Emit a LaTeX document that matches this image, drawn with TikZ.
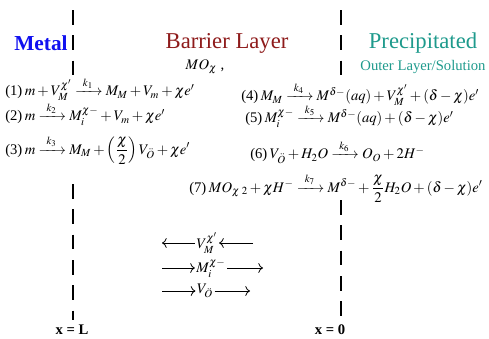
\documentclass[tikz,border=0pt]{standalone}
\usepackage{amsmath}
\usepackage{mathptmx}
\usepackage{fontspec}
\setmainfont{Liberation Serif}
\usetikzlibrary{arrows.meta,positioning}
\definecolor{MetalBlue}{HTML}{1010F0}
\definecolor{BarrierRed}{HTML}{8E1B1B}
\definecolor{PptTeal}{HTML}{1E9A8C}
\newcommand{\kto}[1]{\xrightarrow{\makebox[5mm]{$\scriptstyle k_{#1}$}}}
\tikzset{
  title/.style={font=\fontsize{17}{19}\selectfont, inner sep=1pt},
  subtitle/.style={font=\fontsize{11}{13}\selectfont, inner sep=1pt},
  reaction/.style={anchor=west, inner sep=0pt,
    font=\fontsize{11}{13}\selectfont},
  boundary/.style={line width=0.8pt, dash pattern=on 11pt off 8pt},
  flux/.style={-{To[length=3.5pt]}, line width=0.6pt},
  species/.style={inner sep=1pt, font=\fontsize{11}{13}\selectfont},
  position/.style={font=\bfseries\fontsize{11}{13}\selectfont, inner sep=1pt}
}
\begin{document}
\begin{tikzpicture}[x=0.75pt, y=-0.75pt]
  \useasboundingbox (0,0) rectangle (489,339);
  % interfaces (broken where the reactions are written)
  \coordinate (mbtop) at (73,10);
  \coordinate (mbmid) at (73,80);
  \coordinate (mbres) at (73,184);
  \coordinate (mbbot) at (73,320);
  \coordinate (bstop) at (341,10);
  \coordinate (bsmid) at (341,80);
  \coordinate (bsres) at (341,200);
  \coordinate (bsbot) at (341,320);
  \draw[boundary] (mbtop) -- (mbmid);
  \draw[boundary] (mbres) -- (mbbot);
  \draw[boundary] (bstop) -- (bsmid);
  \draw[boundary] (bsres) -- (bsbot);
  % region titles
  \node[title, text=MetalBlue, font=\bfseries\fontsize{16}{18}\selectfont] (metal) at (41,43) {Metal};
  \node[title, text=BarrierRed] (barrier) at (227,43) {Barrier Layer};
  \node[title, text=PptTeal] (ppt) at (423,43) {Precipitated};
  \node[subtitle, text=PptTeal] (outer) at (423,67) {Outer Layer/Solution};
  \node[subtitle] (oxide) at (205,67) {$MO_{\chi}$ ,};
  % reactions at the metal/film interface
  \node[reaction] (r1) at (5,89) {(1)\,$m+V_M^{\chi'}\kto{1}M_M+V_m+\chi e'$};
  \node[reaction] (r2) at (5,114) {(2)\,$m\kto{2}M_i^{\chi-}+V_m+\chi e'$};
  \node[reaction] (r3) at (5,150) {(3)\,$m\kto{3}M_M+\left(\dfrac{\chi}{2}\right)V_{\ddot{O}}+\chi e'$};
  % reactions at the film/solution interface
  \node[reaction] (r4) at (241,94) {(4)\,$M_M\kto{4}M^{\delta-}(aq)+V_M^{\chi'}+(\delta-\chi)e'$};
  \node[reaction] (r5) at (245,116) {(5)\,$M_i^{\chi-}\kto{5}M^{\delta-}(aq)+(\delta-\chi)e'$};
  \node[reaction] (r6) at (250,152) {(6)\,$V_{\ddot{O}}+H_2O\kto{6}O_O+2H^-$};
  \node[reaction] (r7) at (189,188) {(7)\,$MO_{\chi\;2}+\chi H^-\kto{7}M^{\delta-}+\dfrac{\chi}{2}H_2O+(\delta-\chi)e'$};
  % defect fluxes
  \node[species] (vm) at (207,243) {$V_M^{\chi'}$};
  \node[species] (mi) at (211,268) {$M_i^{\chi-}$};
  \node[species] (vo) at (205,291) {$V_{\ddot{O}}$};
  \coordinate (vmin) at (253,243);
  \coordinate (vmout) at (162,243);
  \coordinate (miin) at (162,268);
  \coordinate (miout) at (263,268);
  \coordinate (voin) at (162,291);
  \coordinate (voout) at (250,291);
  \draw[flux] (vmin) -- (vm);
  \draw[flux] (vm) -- (vmout);
  \draw[flux] (miin) -- (mi);
  \draw[flux] (mi) -- (miout);
  \draw[flux] (voin) -- (vo);
  \draw[flux] (vo) -- (voout);
  % positions
  \node[position] (xl) at (72,330) {x = L};
  \node[position] (x0) at (330,330) {x = 0};
\end{tikzpicture}
\end{document}
